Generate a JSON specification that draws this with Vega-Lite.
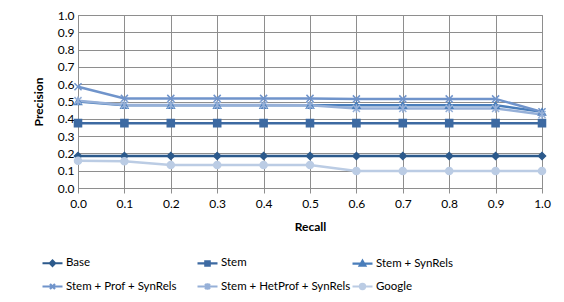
{
  "$schema": "https://vega.github.io/schema/vega-lite/v6.json",
  "width": 464,
  "height": 173,
  "autosize": {"type": "none"},
  "padding": {"left": 78, "top": 15, "right": 22, "bottom": 114},
  "background": "white",
  "config": {
    "font": "Lato",
    "view": {"stroke": "#8E8E8E", "strokeWidth": 1},
    "axis": {
      "labelFont": "Lato", "labelFontSize": 12, "labelColor": "#000000",
      "titleFont": "Lato", "titleFontSize": 12, "titleFontWeight": "bold", "titleColor": "#000000",
      "gridColor": "#8E8E8E", "gridOpacity": 1, "gridWidth": 1,
      "domainColor": "#8E8E8E", "tickColor": "#8E8E8E"
    },
    "legend": {"labelFont": "Lato", "labelFontSize": 11.5, "labelColor": "#000000"}
  },
  "data": {"values": [
    {"r":0.0,"s":"Base","p":0.185},{"r":0.1,"s":"Base","p":0.185},{"r":0.2,"s":"Base","p":0.185},{"r":0.3,"s":"Base","p":0.185},{"r":0.4,"s":"Base","p":0.185},{"r":0.5,"s":"Base","p":0.185},{"r":0.6,"s":"Base","p":0.185},{"r":0.7,"s":"Base","p":0.185},{"r":0.8,"s":"Base","p":0.185},{"r":0.9,"s":"Base","p":0.185},{"r":1.0,"s":"Base","p":0.185},
    {"r":0.0,"s":"Stem","p":0.375},{"r":0.1,"s":"Stem","p":0.375},{"r":0.2,"s":"Stem","p":0.375},{"r":0.3,"s":"Stem","p":0.375},{"r":0.4,"s":"Stem","p":0.375},{"r":0.5,"s":"Stem","p":0.375},{"r":0.6,"s":"Stem","p":0.375},{"r":0.7,"s":"Stem","p":0.375},{"r":0.8,"s":"Stem","p":0.375},{"r":0.9,"s":"Stem","p":0.375},{"r":1.0,"s":"Stem","p":0.375},
    {"r":0.0,"s":"Stem + SynRels","p":0.50},{"r":0.1,"s":"Stem + SynRels","p":0.478},{"r":0.2,"s":"Stem + SynRels","p":0.478},{"r":0.3,"s":"Stem + SynRels","p":0.478},{"r":0.4,"s":"Stem + SynRels","p":0.478},{"r":0.5,"s":"Stem + SynRels","p":0.478},{"r":0.6,"s":"Stem + SynRels","p":0.478},{"r":0.7,"s":"Stem + SynRels","p":0.478},{"r":0.8,"s":"Stem + SynRels","p":0.478},{"r":0.9,"s":"Stem + SynRels","p":0.478},{"r":1.0,"s":"Stem + SynRels","p":0.44},
    {"r":0.0,"s":"Stem + Prof + SynRels","p":0.585},{"r":0.1,"s":"Stem + Prof + SynRels","p":0.518},{"r":0.2,"s":"Stem + Prof + SynRels","p":0.518},{"r":0.3,"s":"Stem + Prof + SynRels","p":0.518},{"r":0.4,"s":"Stem + Prof + SynRels","p":0.518},{"r":0.5,"s":"Stem + Prof + SynRels","p":0.518},{"r":0.6,"s":"Stem + Prof + SynRels","p":0.515},{"r":0.7,"s":"Stem + Prof + SynRels","p":0.515},{"r":0.8,"s":"Stem + Prof + SynRels","p":0.515},{"r":0.9,"s":"Stem + Prof + SynRels","p":0.515},{"r":1.0,"s":"Stem + Prof + SynRels","p":0.44},
    {"r":0.0,"s":"Stem + HetProf + SynRels","p":0.505},{"r":0.1,"s":"Stem + HetProf + SynRels","p":0.48},{"r":0.2,"s":"Stem + HetProf + SynRels","p":0.48},{"r":0.3,"s":"Stem + HetProf + SynRels","p":0.48},{"r":0.4,"s":"Stem + HetProf + SynRels","p":0.48},{"r":0.5,"s":"Stem + HetProf + SynRels","p":0.478},{"r":0.6,"s":"Stem + HetProf + SynRels","p":0.46},{"r":0.7,"s":"Stem + HetProf + SynRels","p":0.46},{"r":0.8,"s":"Stem + HetProf + SynRels","p":0.46},{"r":0.9,"s":"Stem + HetProf + SynRels","p":0.46},{"r":1.0,"s":"Stem + HetProf + SynRels","p":0.425},
    {"r":0.0,"s":"Google","p":0.158},{"r":0.1,"s":"Google","p":0.155},{"r":0.2,"s":"Google","p":0.133},{"r":0.3,"s":"Google","p":0.133},{"r":0.4,"s":"Google","p":0.133},{"r":0.5,"s":"Google","p":0.133},{"r":0.6,"s":"Google","p":0.098},{"r":0.7,"s":"Google","p":0.098},{"r":0.8,"s":"Google","p":0.098},{"r":0.9,"s":"Google","p":0.098},{"r":1.0,"s":"Google","p":0.098}
  ]},
  "encoding": {
    "x": {"field": "r", "type": "quantitative", "title": "Recall",
      "scale": {"domain": [0, 1], "nice": false, "zero": false},
      "axis": {"values": [0,0.1,0.2,0.3,0.4,0.5,0.6,0.7,0.8,0.9,1.0], "format": ".1f", "tickSize": 5, "labelPadding": 5, "titlePadding": 12, "labelFlush": false}},
    "y": {"field": "p", "type": "quantitative", "title": "Precision",
      "scale": {"domain": [0, 1], "nice": false},
      "axis": {"values": [0,0.1,0.2,0.3,0.4,0.5,0.6,0.7,0.8,0.9,1.0], "format": ".1f", "tickSize": 0, "labelPadding": 4, "titlePadding": 12}}
  },
  "layer": [
    {
      "mark": {"type": "line", "strokeWidth": 2.5},
      "encoding": {
        "stroke": {"field": "s", "type": "nominal", "legend": null,
          "scale": {"domain": ["Base","Stem","Stem + SynRels","Stem + Prof + SynRels","Stem + HetProf + SynRels","Google"],
                    "range": ["#2C5A8C","#3D6AA2","#4A7EBB","#7094CB","#96B0D8","#BBCCE4"]}},
        "order": {"field": "r", "type": "quantitative"}
      }
    },
    {
      "mark": {"type": "point", "filled": true, "size": 50, "strokeWidth": 1.5, "opacity": 1},
      "encoding": {
        "fill": {"field": "s", "type": "nominal", "legend": null,
          "scale": {"domain": ["Base","Stem","Stem + SynRels","Stem + Prof + SynRels","Stem + HetProf + SynRels","Google"],
                    "range": ["#2C5A8C","#3D6AA2","#4A7EBB","#7094CB","#96B0D8","#BBCCE4"]}},
        "stroke": {"field": "s", "type": "nominal", "legend": null,
          "scale": {"domain": ["Base","Stem","Stem + SynRels","Stem + Prof + SynRels","Stem + HetProf + SynRels","Google"],
                    "range": ["#2C5A8C","#3D6AA2","#4A7EBB","#7094CB","#96B0D8","#BBCCE4"]}},
        "shape": {"field": "s", "type": "nominal", "legend": null,
          "scale": {"domain": ["Base","Stem","Stem + SynRels","Stem + Prof + SynRels","Stem + HetProf + SynRels","Google"],
                    "range": ["diamond","square","triangle-up","M-1,-1L1,1M-1,1L1,-1","M-1,-1L1,1M-1,1L1,-1M0,-1.2L0,1.2","circle"]}}
      }
    },
    {
      "transform": [{"filter": "datum.p > 5"}],
      "mark": {"type": "point", "filled": true, "size": 400},
      "encoding": {
        "fill": {"field": "s", "type": "nominal",
          "scale": {"domain": ["Base","Stem","Stem + SynRels","Stem + Prof + SynRels","Stem + HetProf + SynRels","Google"],
                    "range": ["#2C5A8C","#3D6AA2","#4A7EBB","#7094CB","#96B0D8","#BBCCE4"]},
          "legend": {"title": null, "orient": "none", "legendX": -37, "legendY": 236, "direction": "horizontal", "columns": 3,
                     "gridAlign": "all", "columnPadding": -14, "rowPadding": 4, "symbolSize": 400, "symbolStrokeWidth": 2.2,
                     "labelOffset": 2, "padding": 0, "labelFontSize": 11.5, "symbolOpacity": 1}},
        "stroke": {"field": "s", "type": "nominal",
          "scale": {"domain": ["Base","Stem","Stem + SynRels","Stem + Prof + SynRels","Stem + HetProf + SynRels","Google"],
                    "range": ["#2C5A8C","#3D6AA2","#4A7EBB","#7094CB","#96B0D8","#BBCCE4"]},
          "legend": {"title": null, "orient": "none", "legendX": -37, "legendY": 236, "direction": "horizontal", "columns": 3,
                     "gridAlign": "all", "columnPadding": -14, "rowPadding": 4, "symbolSize": 400, "symbolStrokeWidth": 2.2,
                     "labelOffset": 2, "padding": 0, "labelFontSize": 11.5, "symbolOpacity": 1}},
        "shape": {"field": "s", "type": "nominal",
          "scale": {"domain": ["Base","Stem","Stem + SynRels","Stem + Prof + SynRels","Stem + HetProf + SynRels","Google"],
                    "range": ["M-1,0H1M0,-0.26L0.26,0L0,0.26L-0.26,0Z",
                              "M-1,0H1M-0.22,-0.22H0.22V0.22H-0.22Z",
                              "M-1,0H1M0,-0.28L0.28,0.2H-0.28Z",
                              "M-1,0H1M-0.25,-0.25L0.25,0.25M-0.25,0.25L0.25,-0.25",
                              "M-1,0H1M-0.25,-0.25L0.25,0.25M-0.25,0.25L0.25,-0.25M0,-0.32V0.32",
                              "M-1,0H1M0.26,0A0.26,0.26,0,1,1,-0.26,0A0.26,0.26,0,1,1,0.26,0Z"]},
          "legend": {"title": null, "orient": "none", "legendX": -37, "legendY": 236, "direction": "horizontal", "columns": 3,
                     "gridAlign": "all", "columnPadding": -14, "rowPadding": 4, "symbolSize": 400, "symbolStrokeWidth": 2.2,
                     "labelOffset": 2, "padding": 0, "labelFontSize": 11.5, "symbolOpacity": 1}}
      }
    }
  ],
  "resolve": {"scale": {"stroke": "independent", "fill": "independent", "shape": "independent"}}
}
